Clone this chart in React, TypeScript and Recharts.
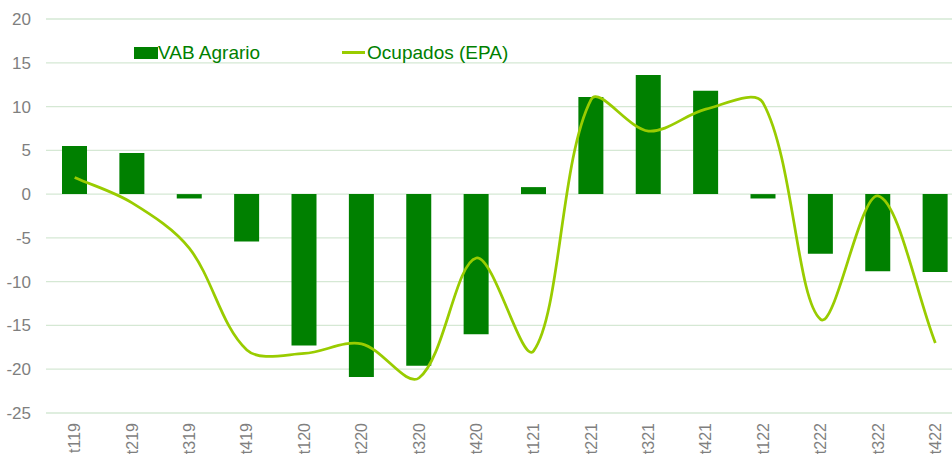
import { Bar, CartesianGrid, ComposedChart, Line, XAxis, YAxis } from "recharts";

const quarters = [
  "t119", "t219", "t319", "t419", "t120", "t220", "t320", "t420",
  "t121", "t221", "t321", "t421", "t122", "t222", "t322", "t422",
];
const vabAgrario = [5.5, 4.7, -0.5, -5.4, -17.3, -20.9, -19.6, -16.0, 0.8, 11.1, 13.6, 11.8, -0.5, -6.8, -8.8, -8.9];
const ocupadosEpa = [1.9, -1.0, -6.2, -17.8, -18.2, -17.1, -21.0, -7.3, -17.9, 10.8, 7.2, 9.7, 10.4, -14.3, -0.2, -17.0];
const yTicks = [20, 15, 10, 5, 0, -5, -10, -15, -20, -25];

const data = quarters.map((q, i) => ({ q, vab: vabAgrario[i], epa: ocupadosEpa[i] }));

const BAR = "#008000";
const LINE = "#99cc00";
const FONT = "'Liberation Sans', Arial, sans-serif";

// Excel-like smoothed line: bezier with control arms weighted by segment lengths
const excelSmooth = (context: any) => {
  let pts: [number, number][] = [];
  const dist = (a: [number, number], b: [number, number]) => Math.hypot(b[0] - a[0], b[1] - a[1]);
  return {
    areaStart() {},
    areaEnd() {},
    lineStart() {
      pts = [];
    },
    lineEnd() {
      if (!pts.length) return;
      const n = pts.length;
      // control arms at each point
      const inCp: [number, number][] = [];
      const outCp: [number, number][] = [];
      for (let i = 0; i < n; i++) {
        const p0 = pts[Math.max(i - 1, 0)];
        const p1 = pts[i];
        const p2 = pts[Math.min(i + 1, n - 1)];
        const d01 = dist(p0, p1);
        const d12 = dist(p1, p2);
        const sum = d01 + d12 || 1;
        const fa = (1 / 3) * (d01 / sum);
        const fb = (1 / 3) * (d12 / sum);
        inCp.push([p1[0] - fa * (p2[0] - p0[0]), p1[1] - fa * (p2[1] - p0[1])]);
        outCp.push([p1[0] + fb * (p2[0] - p0[0]), p1[1] + fb * (p2[1] - p0[1])]);
      }
      context.moveTo(pts[0][0], pts[0][1]);
      for (let i = 0; i < n - 1; i++) {
        const c1 = outCp[i];
        const c2 = inCp[i + 1];
        context.bezierCurveTo(c1[0], c1[1], c2[0], c2[1], pts[i + 1][0], pts[i + 1][1]);
      }
    },
    point(x: number, y: number) {
      pts.push([+x, +y]);
    },
  };
};

const XTick = ({ x, y, payload }: any) => (
  <g transform={`translate(${x},${y + 2})`}>
    <text transform="rotate(-90)" textAnchor="end" dy="0.35em" fill="#7f7f7f" fontSize={16} fontFamily={FONT}>
      {payload.value}
    </text>
  </g>
);

const LegendBox = () => (
  <div
    style={{
      position: "absolute",
      top: 43,
      left: 134,
      display: "flex",
      alignItems: "center",
      fontFamily: FONT,
      fontSize: 19,
      lineHeight: "19px",
      color: BAR,
    }}
  >
    <span style={{ display: "inline-block", width: 24, height: 12, background: BAR }} />
    <span>VAB Agrario</span>
    <span style={{ display: "inline-block", width: 23, height: 3, background: LINE, marginLeft: 82 }} />
    <span style={{ marginLeft: 2 }}>Ocupados (EPA)</span>
  </div>
);

export default function App() {
  return (
    <div style={{ position: "fixed", left: 0, top: 0, width: 952, height: 456, overflow: "hidden", background: "#fff" }}>
      <ComposedChart width={964} height={470} data={data} margin={{ top: 19, right: 0, bottom: 0, left: 0 }}>
        <CartesianGrid vertical={false} stroke="#d5e8d4" strokeWidth={1.3} />
        <XAxis dataKey="q" axisLine={false} tickLine={false} interval={0} height={57} tick={<XTick />} />
        <YAxis
          domain={[-25, 20]}
          ticks={yTicks}
          width={46}
          axisLine={false}
          tickLine={false}
          tickSize={6}
          tickMargin={9}
          tick={{ fill: "#7f7f7f", fontSize: 17, fontFamily: FONT }}
        />
        <Bar dataKey="vab" fill={BAR} barSize={25} isAnimationActive={false} />
        <Line
          dataKey="epa"
          type={excelSmooth as any}
          stroke={LINE}
          strokeWidth={2.75}
          dot={false}
          activeDot={false}
          isAnimationActive={false}
        />
      </ComposedChart>
      <LegendBox />
    </div>
  );
}
